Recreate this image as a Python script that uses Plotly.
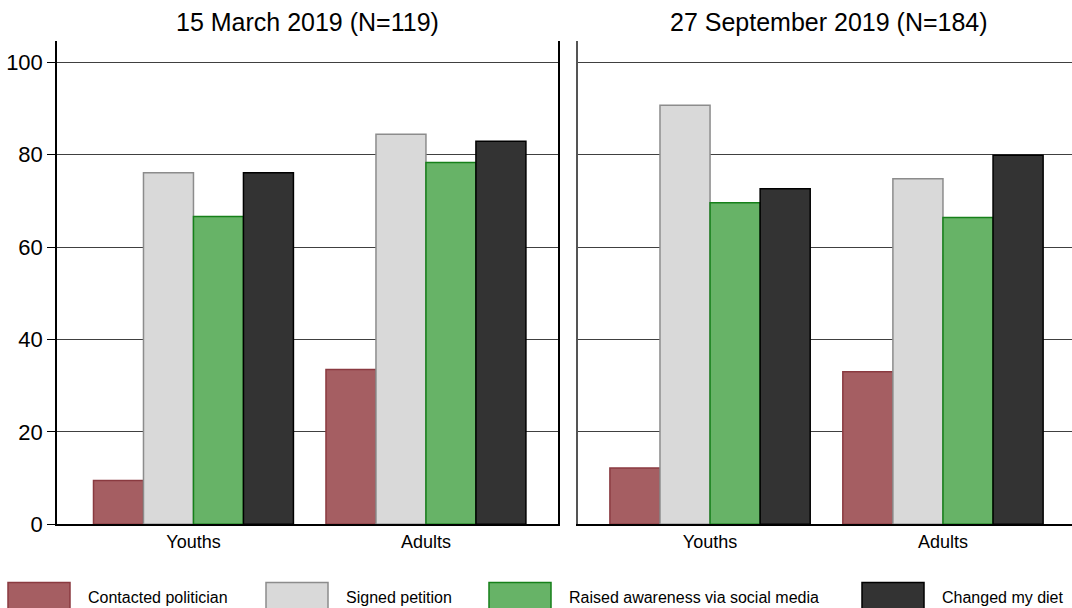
import plotly.graph_objects as go

# ---- data ----
groups = ["Youths", "Adults"]
series_names = ["Contacted politician", "Signed petition",
                "Raised awareness via social media", "Changed my diet"]
panel_titles = ["15 March 2019 (N=119)", "27 September 2019 (N=184)"]

march_contacted = [9.5, 33.5]
march_signed = [76.1, 84.4]
march_raised = [66.6, 78.3]
march_diet = [76.1, 82.9]

sept_contacted = [12.2, 33.0]
sept_signed = [90.7, 74.8]
sept_raised = [69.6, 66.4]
sept_diet = [72.6, 79.9]

y_ticks = [0, 20, 40, 60, 80, 100]

# ---- style ----
fills = ["#a55e62", "#d9d9d9", "#67b367", "#333333"]
borders = ["#8a3a40", "#8c8c8c", "#16801a", "#000000"]
W, H = 1072, 608
FONT = "Liberation Sans, Arial, sans-serif"

panels = [
    [march_contacted, march_signed, march_raised, march_diet],
    [sept_contacted, sept_signed, sept_raised, sept_diet],
]

fig = go.Figure()
for p, vals in enumerate(panels):
    xa = "x" if p == 0 else "x2"
    ya = "y" if p == 0 else "y2"
    for s, v in enumerate(vals):
        fig.add_trace(go.Bar(
            x=groups, y=v, name=series_names[s],
            marker=dict(color=fills[s], line=dict(color=borders[s], width=1.5)),
            xaxis=xa, yaxis=ya, showlegend=False, hoverinfo="skip"))

ydom = [1 - 524.3 / H, 1 - 41 / H]
yrange = [0, 104.6]

fig.update_layout(
    template="none",
    width=W, height=H, autosize=False,
    margin=dict(l=0, r=0, t=0, b=0, pad=0),
    paper_bgcolor="white", plot_bgcolor="white",
    barmode="group", bargap=0.14, bargroupgap=0,
    font=dict(family=FONT, color="black"),
    xaxis=dict(domain=[57 / W, 558 / W], type="category", automargin=False,
               range=[-0.587, 1.568], showline=True, linecolor="black",
               linewidth=1.5, mirror=False, ticks="", showgrid=False,
               tickfont=dict(size=18), anchor="y"),
    yaxis=dict(domain=ydom, range=yrange, tickvals=y_ticks, automargin=False,
               showline=True, linecolor="black", linewidth=1.5, mirror=True,
               ticks="outside", ticklen=8, tickcolor="black", tickwidth=1,
               showgrid=True, gridcolor="#404040", gridwidth=1,
               zeroline=False, tickfont=dict(size=22), anchor="x"),
    xaxis2=dict(domain=[578 / W, 1.0], type="category", automargin=False,
                range=[-0.567, 1.554], showline=True, linecolor="black",
                linewidth=1.5, ticks="", showgrid=False,
                tickfont=dict(size=18), anchor="y2"),
    yaxis2=dict(domain=ydom, range=yrange, tickvals=y_ticks, automargin=False,
                showline=True, linecolor="#555555", linewidth=1.5,
                mirror=False, showticklabels=False, ticks="",
                showgrid=True, gridcolor="#404040", gridwidth=1,
                zeroline=False, anchor="x2"),
)

# panel titles
title_x = [(57 + 558) / 2 / W, (578 + 1079) / 2 / W]
for t, xc in zip(panel_titles, title_x):
    fig.add_annotation(text=t, x=xc, y=1 - 22 / H, xref="paper", yref="paper",
                       showarrow=False, font=dict(size=25, family=FONT),
                       xanchor="center", yanchor="middle")

# legend (drawn manually to match wide swatches)
sw_left = [8, 266, 489, 862]
for s, name in enumerate(series_names):
    x0 = sw_left[s]
    fig.add_shape(type="rect", xref="paper", yref="paper",
                  x0=x0 / W, x1=(x0 + 62) / W, y0=-0.02, y1=1 - 582.5 / H,
                  fillcolor=fills[s], line=dict(color=borders[s], width=1.5))
    fig.add_annotation(text=name, x=(x0 + 78) / W, y=1 - 597 / H,
                       xref="paper", yref="paper", showarrow=False,
                       xanchor="left", yanchor="middle",
                       font=dict(size=16, family=FONT))

fig.write_html("out.html", config={"displayModeBar": False},
               post_script="document.body.style.margin='0';"
                           "document.body.style.overflow='hidden';")
